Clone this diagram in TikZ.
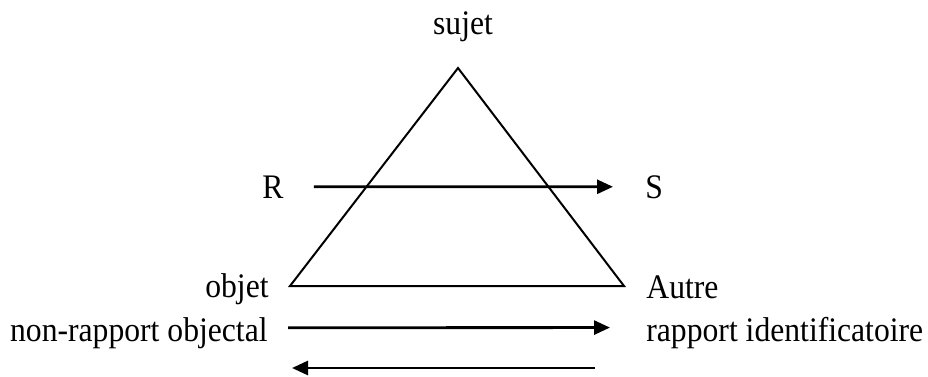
\documentclass[tikz,border=0pt]{standalone}
\usepackage{fontspec}
\setmainfont{Liberation Serif}[FakeStretch=0.92]
\usetikzlibrary{arrows.meta}

\begin{document}
\begin{tikzpicture}[
        x=0.5pt, y=-0.5pt,
        label/.style={inner sep=0pt, font=\fontsize{17.2}{20}\selectfont},
        side/.style={line width=1pt, line join=miter},
        arrow/.style={-{Triangle[length=8pt, width=7pt]}, line width=1.4pt}
    ]
        \useasboundingbox (0,0) rectangle (928,376);

        % triangle
        \coordinate (apex) at (458,68);
        \coordinate (gauche) at (290,286);
        \coordinate (droite) at (624,286);
        \draw[side] (apex) -- (gauche) -- (droite) -- cycle;

        \node[label, anchor=base] (sujet) at (463,34) {sujet};
        \node[label, anchor=base west] (R) at (262,198) {R};
        \node[label, anchor=base west] (S) at (645,198) {S};
        \node[label, anchor=base east] (objet) at (269,297) {objet};
        \node[label, anchor=base west] (autre) at (646,298) {Autre};
        \node[label, anchor=base east] (nonrap) at (268,341) {non-rapport objectal};
        \node[label, anchor=base west] (rapport) at (646,341) {rapport identificatoire};

        \coordinate (retourA) at (595,368);
        \coordinate (retourB) at (292,368);

        \draw[arrow, shorten <=15pt, shorten >=16pt] (R) -- (S);
        \draw[arrow, shorten <=10pt, shorten >=18pt] ([yshift=2.5pt]nonrap.east) -- ([yshift=2.5pt]rapport.west);
        \draw[arrow] (retourA) -- (retourB);
    \end{tikzpicture}
\end{document}
